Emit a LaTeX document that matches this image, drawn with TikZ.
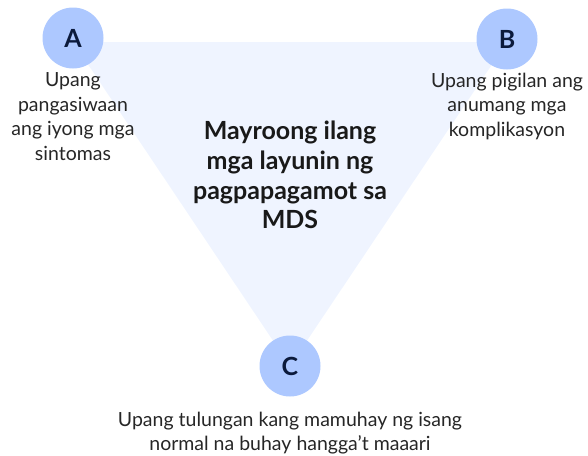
\documentclass[tikz,border=0pt]{standalone}
\usepackage{fontspec}
\setmainfont{Lato}
\usetikzlibrary{positioning,backgrounds}
\definecolor{tribg}{HTML}{EFF4FF}
\definecolor{dotfill}{HTML}{ADC8FF}
\definecolor{navy}{HTML}{0B1A3C}
\definecolor{txtgray}{HTML}{262626}
\tikzset{
    goal/.style={circle,fill=dotfill,minimum size=61pt,inner sep=0pt,
        font=\bfseries\fontsize{25}{25}\selectfont,text=navy},
    note/.style={align=center,inner sep=0pt,text=txtgray,
        font=\fontsize{19.5}{24.5}\selectfont},
    title/.style={align=center,inner sep=0pt,text=black!90,
        font=\bfseries\fontsize{25}{29.7}\selectfont},
}
\begin{document}
\begin{tikzpicture}[x=1pt,y=-1pt]
    \useasboundingbox (0,0) rectangle (588,455);
    % circles
    \node[goal] (A) at (73,38) {A};
    \node[goal] (B) at (507,39) {B};
    \node[goal] (C) at (290,366) {C};
    % faded triangle behind
    \begin{scope}[on background layer]
        \fill[tribg] ([yshift=-4pt]A.center) -- ([yshift=-3pt]B.center) -- (C.center) -- cycle;
    \end{scope}
    % labels
    \node[note,below=4pt of A] (notea) {Upang\\pangasiwaan\\ang iyong mga\\sintomas};
    \node[note,below=3pt of B] (noteb) {Upang pigilan ang\\anumang mga\\komplikasyon};
    \node[note,below=15pt of C] (notec) {Upang tulungan kang mamuhay ng isang\\normal na buhay hangga’t maaari};
    \node[title] (mid) at (290,175) {Mayroong ilang\\mga layunin ng\\pagpapagamot sa\\MDS};
\end{tikzpicture}
\end{document}
